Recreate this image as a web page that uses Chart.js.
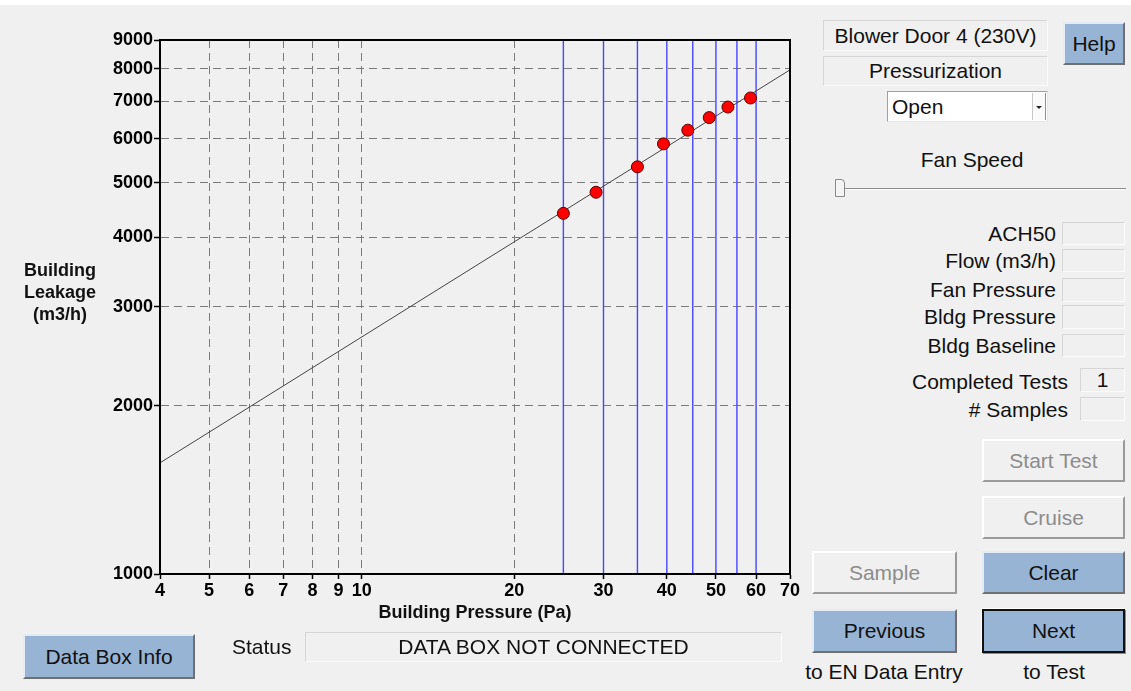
<!DOCTYPE html>
<html>
<head>
<meta charset="utf-8">
<script src="https://cdn.jsdelivr.net/npm/chart.js@4/dist/chart.umd.min.js"></script>
<style>
    body {
        margin: 0;
        width: 1131px;
        height: 691px;
        overflow: hidden;
        background: #f0f0f0;
        font-family: "Liberation Sans", Arial, sans-serif;
        font-size: 21px;
        color: #111;
        position: relative;
    }
    .abs { position: absolute; }
    .strip { left: 0; top: 0; width: 1131px; height: 5px; background: #fff; }
    #plot { left: 0; top: 0; width: 805px; height: 630px; }
    .axis-title { font-weight: bold; font-size: 18px; line-height: 22px; text-align: center; }
    .readout {
        box-sizing: border-box;
        background: #f0f0f0;
        border-top: 1px solid #d6d6d6;
        border-left: 1px solid #d6d6d6;
        border-right: 1px solid #fbfbfb;
        border-bottom: 1px solid #fbfbfb;
        text-align: center;
    }
    .lbl { text-align: right; white-space: nowrap; }
    .btn {
        box-sizing: border-box;
        text-align: center;
        background: #98b4d4;
        border-top: 2px solid #e4ebf3;
        border-left: 2px solid #e4ebf3;
        border-right: 2px solid #6f6f6f;
        border-bottom: 2px solid #6f6f6f;
    }
    .btn.off {
        background: #f0f0f0;
        color: #8c8c8c;
        border-top: 2px solid #ffffff;
        border-left: 2px solid #ffffff;
        border-right: 2px solid #9a9a9a;
        border-bottom: 2px solid #9a9a9a;
    }
    .btn.focus { border: 2px solid #111; box-shadow: 1px 1px 0 #8a8a8a, -1px -1px 0 #fff; }
</style>
</head>
<body>
<div class="abs strip"></div>
<div id="plot" class="abs"><canvas id="leakChart"></canvas></div>

<div class="abs axis-title" style="left:0;top:259px;width:120px;">Building<br>Leakage<br>(m3/h)</div>
<div class="abs axis-title" style="left:160px;top:601px;width:630px;">Building Pressure (Pa)</div>

<!-- bottom bar -->
<div class="abs btn" style="left:23px;top:634px;width:172px;height:45px;line-height:41px;">Data Box Info</div>
<div class="abs" style="left:232px;top:634px;line-height:26px;">Status</div>
<div class="abs readout" style="left:305px;top:632px;width:477px;height:30px;line-height:28px;">DATA BOX NOT CONNECTED</div>

<!-- right panel -->
<div class="abs readout" style="left:823px;top:20px;width:225px;height:31px;line-height:29px;">Blower Door 4 (230V)</div>
<div class="abs readout" style="left:823px;top:56px;width:225px;height:30px;line-height:28px;">Pressurization</div>
<div class="abs" style="left:887px;top:91px;width:161px;height:31px;box-sizing:border-box;background:#fff;border-top:1px solid #a0a0a0;border-left:1px solid #a0a0a0;border-right:1px solid #e6e6e6;border-bottom:1px solid #e6e6e6;">
    <div class="abs" style="left:4px;top:0;line-height:29px;">Open</div>
    <div class="abs" style="left:144px;top:1px;width:12px;height:27px;border-left:1px solid #c8c8c8;border-right:1px solid #909090;background:#fafafa;"></div>
    <div class="abs" style="left:148px;top:14px;width:0;height:0;border-left:3px solid transparent;border-right:3px solid transparent;border-top:3px solid #222;"></div>
</div>
<div class="abs btn" style="left:1063px;top:22px;width:62px;height:43px;line-height:39px;">Help</div>

<div class="abs" style="left:872px;top:147px;width:200px;text-align:center;line-height:26px;">Fan Speed</div>
<div class="abs" style="left:836px;top:188px;width:290px;height:1px;background:#8a8a8a;border-bottom:1px solid #fff;"></div>
<div class="abs" style="left:835px;top:179px;width:10px;height:18px;box-sizing:border-box;background:#f4f4f4;border:1px solid #8a8a8a;border-top-right-radius:4px;"></div>

<div class="abs lbl" style="right:75px;top:221px;line-height:26px;">ACH50</div>
<div class="abs readout" style="left:1062px;top:222px;width:63px;height:23px;"></div>
<div class="abs lbl" style="right:75px;top:248px;line-height:26px;">Flow (m3/h)</div>
<div class="abs readout" style="left:1062px;top:249px;width:63px;height:23px;"></div>
<div class="abs lbl" style="right:75px;top:277px;line-height:26px;">Fan Pressure</div>
<div class="abs readout" style="left:1062px;top:278px;width:63px;height:24px;"></div>
<div class="abs lbl" style="right:75px;top:304px;line-height:26px;">Bldg Pressure</div>
<div class="abs readout" style="left:1062px;top:305px;width:63px;height:24px;"></div>
<div class="abs lbl" style="right:75px;top:333px;line-height:26px;">Bldg Baseline</div>
<div class="abs readout" style="left:1062px;top:334px;width:63px;height:23px;"></div>

<div class="abs lbl" style="right:63px;top:369px;line-height:26px;">Completed Tests</div>
<div class="abs readout" style="left:1080px;top:368px;width:45px;height:24px;line-height:22px;">1</div>
<div class="abs lbl" style="right:63px;top:397px;line-height:26px;"># Samples</div>
<div class="abs readout" style="left:1080px;top:397px;width:45px;height:24px;"></div>

<div class="abs btn off" style="left:982px;top:439px;width:143px;height:43px;line-height:39px;">Start Test</div>
<div class="abs btn off" style="left:982px;top:496px;width:143px;height:43px;line-height:39px;">Cruise</div>
<div class="abs btn off" style="left:812px;top:551px;width:145px;height:43px;line-height:39px;">Sample</div>
<div class="abs btn" style="left:982px;top:551px;width:143px;height:43px;line-height:39px;">Clear</div>
<div class="abs btn" style="left:812px;top:609px;width:145px;height:44px;line-height:40px;">Previous</div>
<div class="abs btn focus" style="left:982px;top:609px;width:143px;height:44px;line-height:40px;">Next</div>
<div class="abs" style="left:794px;top:659px;width:180px;text-align:center;line-height:26px;">to EN Data Entry</div>
<div class="abs" style="left:984px;top:659px;width:140px;text-align:center;line-height:26px;">to Test</div>

<script>
// Axes
const X_TICKS = [4, 5, 6, 7, 8, 9, 10, 20, 30, 40, 50, 60, 70];
const Y_TICKS = [1000, 2000, 3000, 4000, 5000, 6000, 7000, 8000, 9000];

// Target pressure stations (blue lines)
const TARGET_PRESSURES = [25, 30, 35, 40, 45, 50, 55, 60];

// Measured readings
const PRESSURE = [25, 29, 35, 39.4, 44, 48.5, 52.8, 58.5];
const LEAKAGE = [4410, 4810, 5340, 5870, 6210, 6540, 6830, 7090];

// Fitted power-law line (end points)
const FIT_X = [4, 70];
const FIT_Y = [1580, 7960];

const X_MIN = X_TICKS[0], X_MAX = X_TICKS[X_TICKS.length - 1];
const Y_MIN = Y_TICKS[0], Y_MAX = Y_TICKS[Y_TICKS.length - 1];

const tickFont = { family: '"Liberation Sans", Arial, sans-serif', size: 18, weight: 'bold' };

// frame round the plot area (top and right sides)
const framePlugin = {
    id: 'frame',
    afterDatasetsDraw(chart) {
        const { ctx, chartArea: a } = chart;
        ctx.save();
        ctx.strokeStyle = '#000';
        ctx.lineWidth = 2;
        ctx.strokeRect(a.left, a.top, a.right - a.left, a.bottom - a.top);
        ctx.restore();
    }
};

const datasets = [];

datasets.push({
    label: 'Readings',
    data: PRESSURE.map((p, i) => ({ x: p, y: LEAKAGE[i] })),
    backgroundColor: '#ff0000',
    borderColor: '#5a0000',
    borderWidth: 1,
    pointRadius: 6,
    showLine: false,
    order: 0
});

datasets.push({
    label: 'Fit',
    data: FIT_X.map((x, i) => ({ x: x, y: FIT_Y[i] })),
    borderColor: '#444',
    borderWidth: 1,
    pointRadius: 0,
    showLine: true,
    order: 1
});

TARGET_PRESSURES.forEach(p => {
    datasets.push({
        label: 'Target ' + p,
        data: [{ x: p, y: Y_MIN }, { x: p, y: Y_MAX }],
        borderColor: '#4646ff',
        borderWidth: 1.4,
        pointRadius: 0,
        showLine: true,
        order: 2
    });
});

// no dashed grid where the frame or a blue line already sits
const gridColor = (ctx, hidden) => hidden.includes(ctx.tick && ctx.tick.value) ? 'rgba(0,0,0,0)' : '#7a7a7a';

new Chart(document.getElementById('leakChart'), {
    type: 'scatter',
    data: { datasets: datasets },
    plugins: [framePlugin],
    options: {
        responsive: true,
        maintainAspectRatio: false,
        animation: false,
        layout: { padding: { top: 40, right: 15, left: 0, bottom: 0 } },
        plugins: {
            legend: { display: false },
            tooltip: { enabled: false }
        },
        scales: {
            x: {
                type: 'logarithmic',
                min: X_MIN,
                max: X_MAX,
                afterBuildTicks: s => { s.ticks = X_TICKS.map(v => ({ value: v })); },
                afterFit: s => { s.height = 56; },
                ticks: {
                    autoSkip: false,
                    maxRotation: 0,
                    color: '#000',
                    font: tickFont,
                    padding: 1,
                    callback: v => String(v)
                },
                grid: {
                    color: ctx => gridColor(ctx, [X_MIN, X_MAX].concat(TARGET_PRESSURES)),
                    lineWidth: 1,
                    tickColor: '#000',
                    tickLength: 5,
                    tickWidth: 1.5
                },
                border: { display: true, color: '#000', width: 2, dash: [8, 5] }
            },
            y: {
                type: 'logarithmic',
                min: Y_MIN,
                max: Y_MAX,
                afterBuildTicks: s => { s.ticks = Y_TICKS.map(v => ({ value: v })); },
                afterFit: s => { s.width = 160; },
                ticks: {
                    autoSkip: false,
                    color: '#000',
                    font: tickFont,
                    padding: 1,
                    callback: v => String(v)
                },
                grid: {
                    color: ctx => gridColor(ctx, [Y_MIN, Y_MAX]),
                    lineWidth: 1,
                    tickColor: '#000',
                    tickLength: 6,
                    tickWidth: 1.5
                },
                border: { display: true, color: '#000', width: 2, dash: [8, 5] }
            }
        }
    }
});
</script>
</body>
</html>
